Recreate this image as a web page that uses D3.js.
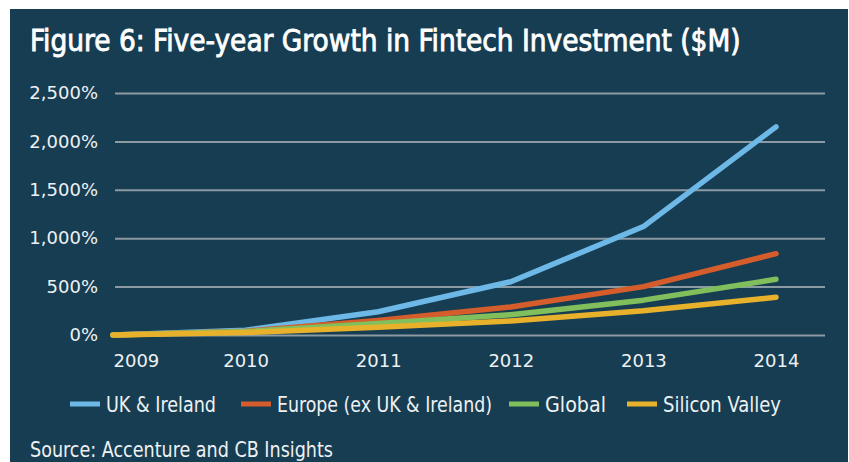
<!DOCTYPE html>
<html>
<head>
<meta charset="utf-8">
<script src="https://cdn.jsdelivr.net/npm/d3@7"></script>
<style>
  html, body { margin: 0; padding: 0; background: #ffffff; }
  svg { display: block; }
  .cond { font-family: "Liberation Sans Narrow", "DejaVu Sans Condensed", "Open Sans", sans-serif; font-stretch: condensed; }
  .axis text { font-family: "DejaVu Sans", sans-serif; }
</style>
</head>
<body>
<svg id="chart" width="849" height="462"></svg>
<script>
// Years on the horizontal axis
const years = ["2009", "2010", "2011", "2012", "2013", "2014"];

// Cumulative growth in fintech investment since 2009 (%)
const ukIreland     = [0, 50, 240, 550, 1120, 2150];
const europeExUK    = [0, 40, 150, 290, 500, 840];
const globalGrowth  = [0, 35, 120, 210, 360, 575];
const siliconValley = [0, 25, 80, 145, 250, 390];

const seriesNames  = ["UK & Ireland", "Europe (ex UK & Ireland)", "Global", "Silicon Valley"];
const seriesValues = [ukIreland, europeExUK, globalGrowth, siliconValley];
const seriesColors = ["#6db8e6", "#d55d2c", "#80bf5b", "#e8b12b"];

// Vertical axis ticks (%)
const yTicks = [0, 500, 1000, 1500, 2000, 2500];

const titleText  = "Figure 6: Five-year Growth in Fintech Investment ($M)";
const sourceText = "Source: Accenture and CB Insights";

const svg = d3.select("#chart");
const W = 849, H = 462;

// Scale a text's font size so that its natural width equals the target width
function fitWidth(sel, target) {
  const node = sel.node();
  const fs = parseFloat(sel.attr("font-size"));
  const len = node.getComputedTextLength();
  if (len > 0) sel.attr("font-size", fs * target / len);
  return sel;
}

// Dark panel
svg.append("rect")
  .attr("x", 10).attr("y", 9)
  .attr("width", W - 11).attr("height", H - 9)
  .attr("fill", "#173d52");

// Title
const title = svg.append("text")
  .attr("class", "cond")
  .attr("x", 30).attr("y", 51)
  .attr("fill", "#ffffff")
  .attr("stroke", "#ffffff")
  .attr("stroke-width", 0.8)
  .attr("font-size", 35)
  .attr("font-weight", "normal")
  .text(titleText);
fitWidth(title, 711);

// Scales
const x = d3.scalePoint().domain(years).range([113, 776]);
const y = d3.scaleLinear().domain([0, 2500]).range([335, 93]);
const gridLeft = 115, gridRight = 825;

// Y axis with horizontal gridlines
const yAxis = svg.append("g")
  .attr("class", "axis")
  .attr("transform", `translate(${gridLeft},0)`)
  .call(d3.axisLeft(y)
    .tickValues(yTicks)
    .tickSize(-(gridRight - gridLeft))
    .tickPadding(17)
    .tickFormat(d => d3.format(",")(d) + "%"));
yAxis.select(".domain").remove();
yAxis.selectAll(".tick line")
  .attr("stroke", "#8b9aa3")
  .attr("stroke-width", 2);
yAxis.selectAll(".tick text")
  .attr("fill", "#eef1f3")
  .attr("font-size", 18);

// X axis labels
const xAxis = svg.append("g")
  .attr("class", "axis")
  .attr("transform", "translate(0,347)")
  .call(d3.axisBottom(x).tickSize(0).tickPadding(7));
xAxis.select(".domain").remove();
xAxis.selectAll(".tick text")
  .attr("fill", "#eef1f3")
  .attr("font-size", 18)
  .attr("text-anchor", (d, i) => i === 0 ? "start" : "middle");

// Series lines
const line = d3.line()
  .x((d, i) => x(years[i]))
  .y(d => y(d));

svg.append("g")
  .selectAll("path")
  .data(seriesValues)
  .join("path")
  .attr("d", line)
  .attr("fill", "none")
  .attr("stroke", (d, i) => seriesColors[i])
  .attr("stroke-width", 5.5)
  .attr("stroke-linecap", "round")
  .attr("stroke-linejoin", "round");

// Legend
const legendStart = [70, 241, 509, 627];
const legendTextLen = [110, 215, 61, 118];
const legend = svg.append("g").attr("class", "cond");
seriesNames.forEach((name, i) => {
  const g = legend.append("g").attr("transform", `translate(${legendStart[i]},0)`);
  g.append("line")
    .attr("x1", 0).attr("x2", 30)
    .attr("y1", 404).attr("y2", 404)
    .attr("stroke", seriesColors[i])
    .attr("stroke-width", 5);
  g.append("text")
    .attr("x", 36).attr("y", 412)
    .attr("fill", "#eef1f3")
    .attr("font-size", 21)
    .attr("textLength", legendTextLen[i])
    .attr("lengthAdjust", "spacingAndGlyphs")
    .text(name);
});

// Source note
svg.append("text")
  .attr("class", "cond")
  .attr("x", 30).attr("y", 457)
  .attr("fill", "#eef1f3")
  .attr("font-size", 21)
  .attr("textLength", 303)
  .attr("lengthAdjust", "spacingAndGlyphs")
  .text(sourceText);
</script>
</body>
</html>
